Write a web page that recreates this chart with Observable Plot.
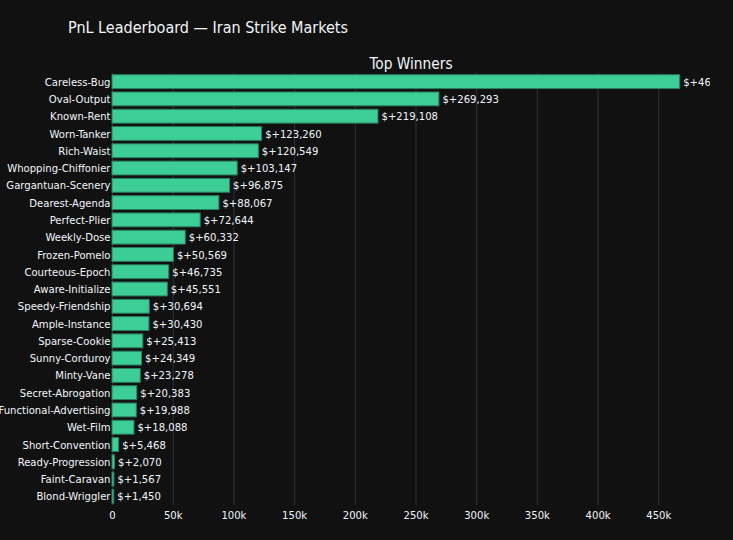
<!DOCTYPE html>
<html>
<head>
<meta charset="utf-8">
<script src="https://cdn.jsdelivr.net/npm/d3@7"></script>
<script src="https://cdn.jsdelivr.net/npm/@observablehq/plot@0.6"></script>
<style>
  html, body { margin: 0; padding: 0; background: #111111; }
  #wrap { position: relative; width: 733px; height: 540px; background: #111111; overflow: hidden;
          font-family: "DejaVu Sans Condensed", "DejaVu Sans", sans-serif; color: #f2f5fa; }
  #title { position: absolute; left: 68px; top: 18px; font-size: 16px; white-space: nowrap; }
  #subtitle { position: absolute; left: 112px; width: 598px; top: 55px; text-align: center; font-size: 15.3px; }
  #chart { position: absolute; left: 0; top: 0; }
</style>
</head>
<body>
<div id="wrap">
  <div id="chart"></div>
  <div id="title">PnL Leaderboard — Iran Strike Markets</div>
  <div id="subtitle">Top Winners</div>
</div>
<script>
const traders = ["Careless-Bug","Oval-Output","Known-Rent","Worn-Tanker","Rich-Waist","Whopping-Chiffonier","Gargantuan-Scenery","Dearest-Agenda","Perfect-Plier","Weekly-Dose","Frozen-Pomelo","Courteous-Epoch","Aware-Initialize","Speedy-Friendship","Ample-Instance","Sparse-Cookie","Sunny-Corduroy","Minty-Vane","Secret-Abrogation","Functional-Advertising","Wet-Film","Short-Convention","Ready-Progression","Faint-Caravan","Blond-Wriggler"];
const pnl = [467600, 269293, 219108, 123260, 120549, 103147, 96875, 88067, 72644, 60332, 50569, 46735, 45551, 30694, 30430, 25413, 24349, 23278, 20383, 19988, 18088, 5468, 2070, 1567, 1450];
const xTicks = [0, 50000, 100000, 150000, 200000, 250000, 300000, 350000, 400000, 450000];

const data = traders.map((name, i) => ({name, pnl: pnl[i]}));
const fmt = d3.format(",");
const font = '"DejaVu Sans Condensed", "DejaVu Sans", sans-serif';
const tf = d => d === 0 ? "0" : (d / 1000) + "k";

const chart = Plot.plot({
  width: 733,
  height: 540,
  marginLeft: 112,
  marginRight: 23,
  marginTop: 73,
  marginBottom: 35,
  style: { background: "#111111", color: "#f2f5fa", fontFamily: font, fontSize: "11.2px" },
  x: { domain: [0, 492600], ticks: xTicks, tickFormat: tf, label: null, tickSize: 0, tickPadding: 6 },
  y: { domain: traders, paddingInner: 0.2, paddingOuter: 0.1, round: false, label: null, tickSize: 0, tickPadding: 2 },
  marks: [
    Plot.gridX(xTicks, { stroke: "#283442", strokeOpacity: 1, strokeWidth: 1 }),
    Plot.barX(data, { x: "pnl", y: "name", fill: "#3dcd97", stroke: "#2a7f5f", strokeWidth: 1 }),
    Plot.text(data, { x: "pnl", y: "name", text: d => "$+" + fmt(d.pnl), textAnchor: "start", dx: 3, fill: "#f2f5fa", fontSize: 11.2, clip: true }),
    Plot.axisX({ ticks: xTicks, tickFormat: tf, tickSize: 0, tickPadding: 6, fontSize: 11.2, label: null }),
    Plot.axisY({ tickSize: 0, tickPadding: 2, fontSize: 11.2, label: null })
  ]
});
document.getElementById("chart").appendChild(chart);
</script>
</body>
</html>
